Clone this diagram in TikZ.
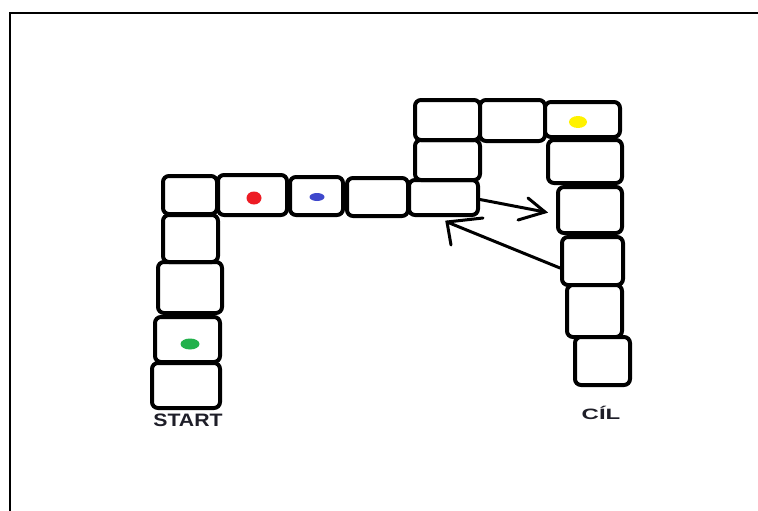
\documentclass[tikz,border=0pt]{standalone}
\usepackage{fontspec}
\setmainfont{Liberation Sans}
\usepackage{graphicx}
\definecolor{paintred}{HTML}{ED1C24}
\definecolor{paintblue}{HTML}{3F48CC}
\definecolor{paintyellow}{HTML}{FFF200}
\definecolor{paintgreen}{HTML}{22B14C}
\definecolor{labelink}{HTML}{1E1E28}
\tikzset{
  field/.style={draw=black, line width=4pt, rounded corners=6pt, fill=white,
                inner sep=0pt},
  token/.style={ellipse, fill=#1, inner sep=0pt},
  pointer/.style={draw=black, line width=3pt, line cap=round},
  caption/.style={anchor=base, text=labelink, font=\bfseries, inner sep=0pt},
  frame/.style={draw=black, line width=2.5pt}
}
\usetikzlibrary{shapes.geometric}
\begin{document}
\begin{tikzpicture}[x=1pt, y=-1pt]
  \useasboundingbox (0,0) rectangle (758,511);
  \fill[white] (0,0) rectangle (758,511);
  % outer frame (only the top and left edges are visible)
  \draw[frame] (10,511) -- (10,13) -- (758,13);

  % left column, from START upwards
  \node[field, minimum width=68pt, minimum height=45pt] (l5) at (186,385.5) {};
  \node[field, minimum width=65pt, minimum height=45pt] (l4) at (187.5,339.5) {};
  \node[field, minimum width=64pt, minimum height=51pt] (l3) at (190,287.5) {};
  \node[field, minimum width=55pt, minimum height=47pt] (l2) at (190.5,238.5) {};
  \node[field, minimum width=54pt, minimum height=38pt] (l1) at (190,195) {};

  % middle row
  \node[field, minimum width=69pt, minimum height=40pt] (m1) at (252.5,195) {};
  \node[field, minimum width=53pt, minimum height=38pt] (m2) at (316.5,196) {};
  \node[field, minimum width=61pt, minimum height=38pt] (m3) at (377.5,197) {};
  \node[field, minimum width=69pt, minimum height=35pt] (m4) at (443.5,197.5) {};

  % upper column and top row
  \node[field, minimum width=65pt, minimum height=40pt] (u1) at (447.5,160) {};
  \node[field, minimum width=65pt, minimum height=40pt] (u2) at (447.5,120) {};
  \node[field, minimum width=65pt, minimum height=41pt] (t1) at (512.5,120.5) {};
  \node[field, minimum width=75pt, minimum height=35pt] (t2) at (582.5,119.5) {};

  % right column, down to CIL
  \node[field, minimum width=74pt, minimum height=43pt] (r1) at (585,161.5) {};
  \node[field, minimum width=64pt, minimum height=46pt] (r2) at (590,210) {};
  \node[field, minimum width=61pt, minimum height=48pt] (r3) at (592.5,261) {};
  \node[field, minimum width=55pt, minimum height=52pt] (r4) at (594.5,311) {};
  \node[field, minimum width=55pt, minimum height=48pt] (r5) at (602.5,361) {};

  % player tokens
  \node[token=paintred,    minimum width=15pt, minimum height=13pt] (redtoken)    at (254,198) {};
  \node[token=paintblue,   minimum width=15pt, minimum height=8pt]  (bluetoken)   at (317,197) {};
  \node[token=paintyellow, minimum width=18pt, minimum height=12pt] (yellowtoken) at (578,122) {};
  \node[token=paintgreen,  minimum width=19pt, minimum height=11pt] (greentoken)  at (190,344) {};

  % labels
  \node[caption, font=\bfseries\fontsize{18}{20}\selectfont] (start) at (188,426)
    {\scalebox{1.18}[1]{START}};
  \node[caption, font=\bfseries\fontsize{15}{17}\selectfont] (goal) at (601,419.5)
    {\scalebox{1.6}[1]{CÍL}};

  % shortcut arrows between the middle row and the right column
  \coordinate (tipA) at (545,212);
  \coordinate (tipB) at (447,222);
  \coordinate (wingA1) at (528,198);
  \coordinate (wingA2) at (518,220);
  \coordinate (wingB1) at (483,218);
  \coordinate (wingB2) at (451,245);
  \draw[pointer] ([yshift=-2pt]m4.east) -- (tipA);
  \draw[pointer] (wingA1) -- (tipA) -- (wingA2);
  \draw[pointer] ([yshift=-7pt]r3.west) -- (tipB);
  \draw[pointer] (wingB1) -- (tipB) -- (wingB2);
\end{tikzpicture}
\end{document}
